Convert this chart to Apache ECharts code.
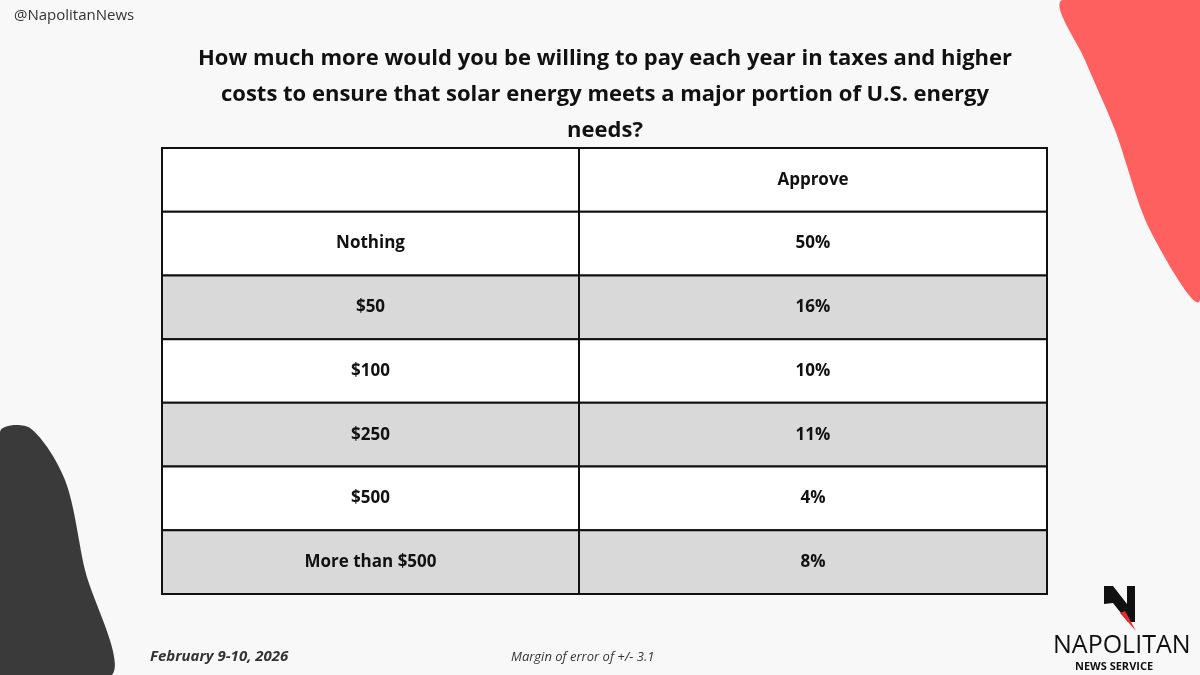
<!DOCTYPE html>
<html>
<head>
<meta charset="utf-8">
<script src="https://cdn.jsdelivr.net/npm/echarts@6/dist/echarts.min.js"></script>
<style>
  html, body { margin: 0; padding: 0; background: #f8f8f8; }
  #main { width: 1200px; height: 675px; }
</style>
</head>
<body>
<div id="main"></div>
<script>
  // table contents
  const headers = ['', 'Approve']
  const amounts = ['Nothing', '$50', '$100', '$250', '$500', 'More than $500']
  const approve = ['50%', '16%', '10%', '11%', '4%', '8%']

  const rows = ['header'].concat(amounts)
  const colEdges = [0, 417, 885]

  let cells = []
  rows.forEach((r, i) => {
    let texts = i === 0 ? headers : [amounts[i - 1], approve[i - 1]]
    texts.forEach((t, c) => cells.push([c, i, t]))
  })

  let chart = echarts.init(document.getElementById('main'))
  const font = '"Open Sans", "Noto Sans", sans-serif'

  chart.setOption({
    backgroundColor: '#f8f8f8',
    title: {
      text: 'How much more would you be willing to pay each year in taxes and higher\ncosts to ensure that solar energy meets a major portion of U.S. energy\nneeds?',
      left: 600,
      top: 36,
      textAlign: 'center',
      textStyle: { fontFamily: font, fontSize: 22, fontWeight: 'bold', color: '#111', lineHeight: 36 },
    },
    grid: { left: 162, top: 148, width: 885, height: 446 },
    xAxis: { type: 'value', min: 0, max: 885, show: false },
    yAxis: { type: 'category', data: rows, inverse: true, show: false },
    series: [{
      type: 'custom',
      data: cells,
      renderItem(params, api) {
        let c = api.value(0), r = api.value(1)
        let p0 = api.coord([colEdges[c], r])
        let p1 = api.coord([colEdges[c + 1], r])
        let h = api.size([0, 1])[1]
        let gray = r > 0 && r % 2 === 0
        return {
          type: 'group',
          children: [{
            type: 'rect',
            shape: { x: p0[0], y: p0[1] - h / 2, width: p1[0] - p0[0], height: h },
            style: { fill: gray ? '#d9d9d9' : '#ffffff', stroke: '#111', lineWidth: 2 },
          }, {
            type: 'text',
            x: (p0[0] + p1[0]) / 2,
            y: p0[1],
            style: {
              text: cells[params.dataIndex][2],
              fill: '#111',
              font: 'bold 17px ' + font,
              align: 'center',
              verticalAlign: 'middle',
            },
          }],
        }
      },
    }],
    graphic: [
      {
        type: 'polygon', z: -1,
        shape: { points: [[1062, 0], [1085, 60], [1115, 130], [1150, 230], [1200, 300], [1200, 0]], smooth: 0.3 },
        style: { fill: '#fe5f5f' },
      },
      {
        type: 'polygon', z: -1,
        shape: { points: [[0, 432], [30, 428], [65, 480], [85, 570], [112, 675], [0, 675]], smooth: 0.3 },
        style: { fill: '#3a3a3a' },
      },
      {
        type: 'text', left: 14, top: 8,
        style: { text: '@NapolitanNews', font: '15px ' + font, fill: '#333' },
      },
      {
        type: 'text', left: 150, top: 649,
        style: { text: 'February 9-10, 2026', font: 'italic bold 15px ' + font, fill: '#333' },
      },
      {
        type: 'text', left: 511, top: 651,
        style: { text: 'Margin of error of +/- 3.1', font: 'italic 13px ' + font, fill: '#333' },
      },
      // logo
      {
        type: 'polygon',
        shape: { points: [[1104, 586], [1113, 586], [1127, 604], [1127, 586], [1135, 586], [1135, 622], [1128, 622], [1113, 603], [1104, 604]] },
        style: { fill: '#111' },
      },
      {
        type: 'polygon',
        shape: { points: [[1120, 613], [1125, 611], [1136, 631]] },
        style: { fill: '#e52b2b' },
      },
      {
        type: 'text', left: 1053, top: 633,
        style: { text: 'NAPOLITAN', font: '25px ' + font, fill: '#111' },
      },
      {
        type: 'text', left: 1075, top: 661,
        style: { text: 'NEWS SERVICE', font: 'bold 11px ' + font, fill: '#111' },
      },
    ],
  })
</script>
</body>
</html>
